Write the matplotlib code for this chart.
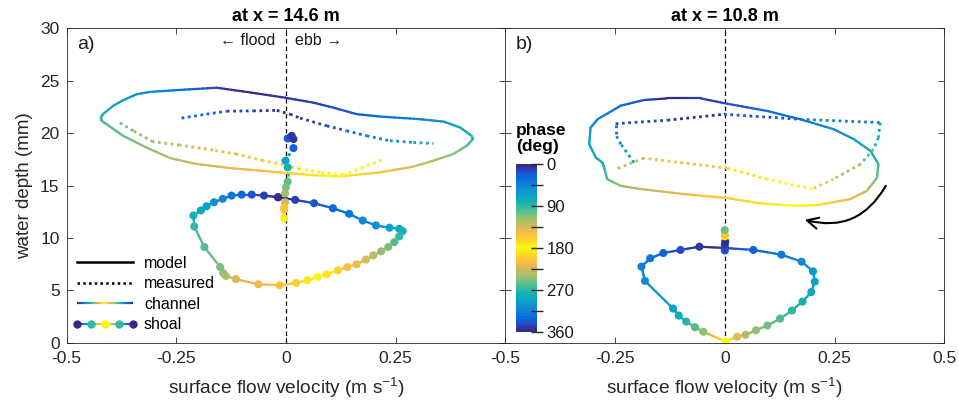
import numpy as np
import matplotlib.pyplot as plt
from matplotlib.collections import LineCollection
from matplotlib.colors import LinearSegmentedColormap, ListedColormap, Normalize
from matplotlib.cm import ScalarMappable
from matplotlib.legend_handler import HandlerBase
from matplotlib.lines import Line2D

plt.rcParams['font.family'] = ['Liberation Sans', 'DejaVu Sans']
plt.rcParams['mathtext.default'] = 'regular'

# ---------------- panel a) at x = 14.6 m ----------------
# channel, model (closed loop, clockwise)
a_chan_mod_u = [-0.090, -0.002, 0.062, 0.108, 0.161, 0.214, 0.305, 0.359, 0.397, 0.423, 0.426, 0.412,
                0.381, 0.336, 0.290, 0.214, 0.123, 0.062, -0.002, -0.059, -0.128, -0.204, -0.264,
                -0.318, -0.371, -0.420, -0.422, -0.417, -0.394, -0.371, -0.340, -0.310, -0.242,
                -0.158, -0.090]
a_chan_mod_h = [23.93, 23.38, 22.91, 22.43, 21.81, 21.58, 21.33, 21.10, 20.53, 19.74, 19.43, 18.79,
                18.00, 17.37, 16.80, 16.25, 15.87, 15.99, 16.20, 16.42, 16.67, 17.05, 17.62,
                18.63, 19.74, 21.17, 21.48, 21.81, 22.60, 23.14, 23.71, 23.93, 24.12,
                24.33, 23.93]
a_chan_mod_ph = [0, 5, 10, 15, 22, 30, 45, 55, 68, 82, 88, 100, 112, 122, 135, 155, 172, 190, 200,
                 210, 218, 228, 236, 246, 256, 268, 272, 277, 287, 295, 303, 312, 325, 350, 360]

# channel, measured (two pieces, gaps in the record)
a_chan_obs1_u = [-0.238, -0.181, -0.135, -0.075, -0.021, 0.009, 0.032, 0.093, 0.138, 0.184, 0.237, 0.290, 0.336]
a_chan_obs1_h = [21.43, 21.81, 22.09, 22.12, 22.17, 21.81, 21.43, 20.69, 20.22, 19.74, 19.27, 19.11, 19.01]
a_chan_obs1_ph = [328, 338, 345, 352, 357, 2, 6, 12, 22, 35, 52, 65, 78]
a_chan_obs2_u = [0.218, 0.176, 0.130, 0.078, 0.032, -0.006, -0.052, -0.112, -0.166, -0.242, -0.303, -0.348, -0.382]
a_chan_obs2_h = [17.43, 16.73, 16.01, 16.25, 16.58, 16.99, 17.37, 18.00, 18.38, 18.86, 19.17, 20.22, 21.07]
a_chan_obs2_ph = [172, 176, 180, 185, 190, 197, 205, 212, 220, 232, 242, 250, 258]

# shoal, model (closed loop)
a_shoal_mod_u = [-0.018, 0.021, 0.064, 0.107, 0.144, 0.175, 0.205, 0.236, 0.258, 0.266, 0.258, 0.247,
                 0.233, 0.217, 0.199, 0.182, 0.161, 0.140, 0.118, 0.093, 0.072, 0.049, 0.023, -0.014,
                 -0.063, -0.114, -0.137, -0.143, -0.150, -0.186, -0.209, -0.211, -0.194, -0.181,
                 -0.164, -0.144, -0.124, -0.101, -0.078, -0.050, -0.018]
a_shoal_mod_h = [13.88, 13.63, 13.31, 12.83, 12.30, 11.66, 11.19, 10.97, 10.87, 10.65, 10.14, 9.60,
                 9.13, 8.72, 8.34, 7.93, 7.48, 7.22, 6.91, 6.53, 6.27, 5.96, 5.70, 5.48,
                 5.58, 6.06, 6.37, 6.65, 7.22, 9.13, 11.09, 12.14, 12.62, 13.02,
                 13.40, 13.73, 14.04, 14.13, 14.13, 14.04, 13.88]
a_shoal_mod_ph = [0, 9, 18, 27, 36, 45, 54, 63, 72, 81, 90, 99, 108, 117, 126, 135, 144, 153, 162, 171,
                  180, 189, 198, 207, 216, 225, 234, 243, 252, 261, 270, 279, 288, 297, 306, 315,
                  324, 333, 342, 351, 360]

# shoal, measured
a_shoal_obs_u = [0.004, 0.013, 0.017, 0.017, -0.001, 0.004, 0.004, 0.000, -0.002, -0.002, -0.004, -0.004, -0.004]
a_shoal_obs_h = [19.49, 19.74, 19.43, 18.57, 17.37, 16.73, 15.37, 14.83, 14.26, 13.40, 12.87, 12.68, 11.88]
a_shoal_obs_ph = [340, 352, 5, 25, 65, 80, 100, 110, 118, 135, 150, 155, 175]

# ---------------- panel b) at x = 10.8 m ----------------
b_chan_mod_u = [-0.131, -0.055, 0.006, 0.097, 0.172, 0.248, 0.294, 0.332, 0.350, 0.347, 0.324, 0.286,
                0.210, 0.157, 0.081, 0.006, -0.093, -0.192, -0.237, -0.268, -0.275, -0.279, -0.294,
                -0.309, -0.306, -0.290, -0.237, -0.184, -0.131]
b_chan_mod_h = [23.31, 23.31, 22.80, 22.11, 21.32, 20.37, 19.42, 18.30, 17.04, 15.76, 14.50, 13.70,
                13.13, 13.07, 13.29, 13.80, 14.18, 14.66, 14.97, 15.61, 16.71, 17.19, 17.67,
                18.94, 20.52, 21.32, 22.62, 23.16, 23.31]
b_chan_mod_ph = [0, 8, 15, 25, 35, 48, 60, 75, 90, 105, 125, 145, 170, 180, 190, 200, 215, 235, 245,
                 260, 272, 278, 285, 295, 305, 315, 330, 345, 360]

b_chan_obs_u = [-0.207, -0.237, -0.249, -0.249, -0.131, -0.002, 0.172, 0.354, 0.350, 0.339, 0.309,
                0.248, 0.199, 0.097, 0.006, -0.184, -0.249]
b_chan_obs_h = [17.19, 18.94, 19.89, 20.90, 21.23, 21.80, 21.32, 21.00, 19.57, 18.46, 17.04,
                15.61, 14.66, 15.61, 16.65, 17.61, 16.56]
b_chan_obs_ph = [290, 305, 320, 340, 352, 5, 30, 55, 75, 90, 110, 140, 170, 185, 200, 220, 245]

b_shoal_mod_u = [0.000, 0.065, 0.129, 0.175, 0.201, 0.205, 0.197, 0.177, 0.153, 0.126, 0.097, 0.071,
                 0.047, 0.028, 0.001, -0.049, -0.068, -0.088, -0.105, -0.118, -0.182, -0.190,
                 -0.170, -0.140, -0.101, -0.058, 0.000]
b_shoal_mod_h = [9.04, 8.85, 8.40, 7.73, 6.81, 5.83, 4.83, 3.92, 3.07, 2.30, 1.64, 1.19,
                 0.75, 0.56, 0.13, 1.04, 1.48, 2.02, 2.59, 3.26, 5.90, 7.26,
                 8.05, 8.56, 8.85, 9.16, 9.04]
b_shoal_mod_ph = [8, 25, 38, 48, 58, 65, 72, 80, 88, 96, 105, 115, 125, 140, 180, 245, 262, 274,
                  284, 295, 310, 318, 326, 336, 346, 354, 368]

b_shoal_obs_u = [0.000, 0.000, 0.001, 0.000, 0.000, 0.000]
b_shoal_obs_h = [8.80, 9.35, 9.65, 10.15, 10.30, 10.75]
b_shoal_obs_ph = [345, 352, 2, 175, 155, 105]

# ---------------- colours: parula, run up and back down over the tidal cycle ----------------
parula_pts = [(0.0, (0.2081, 0.1663, 0.5292)), (6/63, (0.1253, 0.3242, 0.8303)),
              (10/63, (0.0165, 0.4266, 0.8786)), (16/63, (0.0793, 0.5200, 0.8312)),
              (22/63, (0.0239, 0.6287, 0.8038)), (28/63, (0.0843, 0.6928, 0.7062)),
              (32/63, (0.2178, 0.7250, 0.6193)), (38/63, (0.4871, 0.7491, 0.4840)),
              (44/63, (0.7184, 0.7411, 0.3905)), (50/63, (0.9139, 0.7258, 0.3063)),
              (53/63, (0.9938, 0.7455, 0.2403)), (57/63, (0.9789, 0.8271, 0.1633)),
              (1.0, (0.9763, 0.9831, 0.0538))]
parula = LinearSegmentedColormap.from_list('parula', parula_pts)


def phase_rgb(ph):
    t = 1 - np.abs(np.mod(ph, 360) - 180) / 180
    return parula(t)


cyc_cmap = ListedColormap(phase_rgb(np.linspace(0, 360, 64)))


def grad_line(ax, u, h, ph, dotted=False, lw=1.6, nsub=8):
    u = np.asarray(u, float)
    h = np.asarray(h, float)
    ph = np.unwrap(np.asarray(ph, float), period=360)
    if not dotted:
        # split each segment so the colour runs smoothly along the line
        k = np.arange(len(u))
        f = np.linspace(0, len(u) - 1, (len(u) - 1) * nsub + 1)
        u, h, ph = np.interp(f, k, u), np.interp(f, k, h), np.interp(f, k, ph)
    pts = np.column_stack([u, h])
    segs = np.stack([pts[:-1], pts[1:]], axis=1)
    cols = phase_rgb((ph[:-1] + ph[1:]) / 2)
    if dotted:
        lc = LineCollection(segs, colors=cols, linewidths=2.0, linestyles=[(0, (1, 1.3))], zorder=2)
    else:
        lc = LineCollection(segs, colors=cols, linewidths=lw, capstyle='round', zorder=2)
    ax.add_collection(lc)


def dots(ax, u, h, ph):
    ax.scatter(u, h, c=phase_rgb(np.asarray(ph, float)), s=34, edgecolors='none', zorder=3)


class GradientHandler(HandlerBase):
    def __init__(self, with_dots=False):
        super().__init__()
        self.with_dots = with_dots

    def create_artists(self, legend, orig_handle, xdescent, ydescent, width, height, fontsize, trans):
        xs = np.linspace(-xdescent, width - xdescent, 41)
        y0 = height / 2 - ydescent
        pts = np.column_stack([xs, np.full_like(xs, y0)])
        segs = np.stack([pts[:-1], pts[1:]], axis=1)
        lc = LineCollection(segs, colors=phase_rgb(np.linspace(0, 360, len(segs))),
                            linewidths=1.6, transform=trans)
        arts = [lc]
        if self.with_dots:
            for xd, p in zip(np.linspace(-xdescent, width - xdescent, 5), [0, 270, 180, 90, 0]):
                arts.append(Line2D([xd], [y0], marker='o', ms=6, mec='none',
                                   mfc=phase_rgb(p), ls='none', transform=trans))
        return arts


fig = plt.figure(figsize=(9.59, 4.12), dpi=100)
ax1 = fig.add_axes([0.0694, 0.1682, 0.4576, 0.7631])
ax2 = fig.add_axes([0.5270, 0.1682, 0.4576, 0.7631])

for ax in (ax1, ax2):
    ax.set_xlim(-0.5, 0.5)
    ax.set_ylim(0, 30)
    ax.axvline(0, color='k', ls='--', lw=0.9, dashes=(3.5, 2.5), zorder=1)
    ax.tick_params(direction='in', top=True, right=True, length=4, width=0.6,
                   color='0.15', labelcolor='0.15', labelsize=12.5)
    ax.tick_params(axis='x', pad=6)
    ax.tick_params(axis='y', pad=5)
    for s in ax.spines.values():
        s.set_linewidth(0.6)
        s.set_color('0.15')
    ax.set_xlabel('surface flow velocity (m s$^{-1}$)', fontsize=13.8, color='0.15', labelpad=7)
    ax.set_yticks([0, 5, 10, 15, 20, 25, 30])

ax1.set_xticks([-0.5, -0.25, 0, 0.25, 0.5], ['-0.5', '-0.25', '0', '0.25', ''])
ax2.set_xticks([-0.5, -0.25, 0, 0.25, 0.5], ['-0.5', '-0.25', '0', '0.25', '0.5'])
ax2.set_yticklabels([])
ax1.set_ylabel('water depth (mm)', fontsize=13.5, color='0.15', labelpad=5)

ax1.set_title('at x = 14.6 m', fontsize=13, fontweight='bold', pad=5)
ax2.set_title('at x = 10.8 m', fontsize=13, fontweight='bold', pad=5)

# panel a
grad_line(ax1, a_chan_mod_u, a_chan_mod_h, a_chan_mod_ph)
grad_line(ax1, a_chan_obs1_u, a_chan_obs1_h, a_chan_obs1_ph, dotted=True)
grad_line(ax1, a_chan_obs2_u, a_chan_obs2_h, a_chan_obs2_ph, dotted=True)
grad_line(ax1, a_shoal_mod_u, a_shoal_mod_h, a_shoal_mod_ph)
dots(ax1, a_shoal_mod_u, a_shoal_mod_h, a_shoal_mod_ph)
grad_line(ax1, a_shoal_obs_u, a_shoal_obs_h, a_shoal_obs_ph, dotted=True)
dots(ax1, a_shoal_obs_u, a_shoal_obs_h, a_shoal_obs_ph)

# panel b
grad_line(ax2, b_chan_mod_u, b_chan_mod_h, b_chan_mod_ph)
grad_line(ax2, b_chan_obs_u, b_chan_obs_h, b_chan_obs_ph, dotted=True)
grad_line(ax2, b_shoal_mod_u, b_shoal_mod_h, b_shoal_mod_ph)
dots(ax2, b_shoal_mod_u, b_shoal_mod_h, b_shoal_mod_ph)
grad_line(ax2, b_shoal_obs_u, b_shoal_obs_h, b_shoal_obs_ph, dotted=True)
dots(ax2, b_shoal_obs_u, b_shoal_obs_h, b_shoal_obs_ph)

ax1.text(0.023, 0.975, 'a)', transform=ax1.transAxes, fontsize=14, va='top', color='0.1')
ax2.text(0.023, 0.975, 'b)', transform=ax2.transAxes, fontsize=14, va='top', color='0.1')
ax1.text(-0.025, 28.8, '\u2190 flood', ha='right', va='center', fontsize=11.5, color='0.1')
ax1.text(0.02, 28.8, 'ebb \u2192', ha='left', va='center', fontsize=11.5, color='0.1')

# direction of travel around the loops
ax2.annotate('', xy=(0.176, 11.8), xytext=(0.37, 15.2),
             arrowprops=dict(arrowstyle='->', connectionstyle='arc3,rad=-0.4',
                             lw=1.5, color='k', mutation_scale=20))

# legend
chan_h = Line2D([], [])
shoal_h = Line2D([], [])
handles = [Line2D([], [], color='k', lw=1.8),
           Line2D([], [], color='k', lw=1.8, ls=(0, (1, 1.3))),
           chan_h, shoal_h]
ax1.legend(handles, ['model', 'measured', 'channel', 'shoal'], loc='lower left',
           frameon=False, fontsize=11.5, handlelength=3.5, handletextpad=0.7,
           labelspacing=0.35, borderaxespad=0.25,
           handler_map={chan_h: GradientHandler(False), shoal_h: GradientHandler(True)})

# colour bar inside panel b
cax = fig.add_axes([0.538, 0.195, 0.0222, 0.407])
cb = fig.colorbar(ScalarMappable(norm=Normalize(0, 360), cmap=cyc_cmap), cax=cax)
cb.outline.set_visible(False)
cb.set_ticks([0, 45, 90, 135, 180, 225, 270, 315, 360],
             labels=['0', '', '90', '', '180', '', '270', '', '360'])
cax.tick_params(direction='inout', length=9, width=1.0, color='0.15', labelsize=12, labelcolor='0.1', pad=2)
cax.invert_yaxis()
cax.text(0.0, 1.06, 'phase\n(deg)', transform=cax.transAxes, ha='left', va='bottom',
         fontsize=12.5, fontweight='bold', linespacing=1.05)

fig.savefig('out.png', dpi=100)
